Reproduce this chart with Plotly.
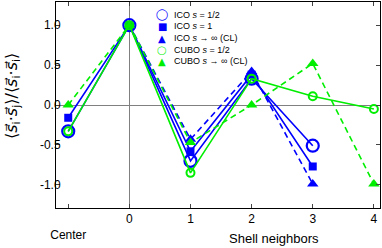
import plotly.graph_objects as go

# ---- data ----
x_cats = [-1, 0, 1, 2, 3, 4]
x_tickvals = [-1, 0, 1, 2, 3, 4]
x_ticktext = ["<br>Center", "0", "1", "2", "3", "4"]
y_tickvals = [-1.0, -0.5, 0.0, 0.5, 1.0]
y_ticktext = ["-1.0", "-0.5", "0.0", "0.5", "1.0"]

ico_half = [-0.33, 1.0, -0.70, 0.33, -0.51, None]
ico_one = [-0.16, 1.0, -0.58, 0.38, -0.77, None]
ico_cl = [None, 1.0, -0.43, 0.42, -0.99, None]
cubo_half = [-0.33, 1.0, -0.85, 0.33, 0.11, -0.05]
cubo_cl = [0.0, 1.0, -0.47, 0.0, 0.52, -0.99]

legend_names = [
    "ICO <i>s</i> = 1/2",
    "ICO <i>s</i> = 1",
    "ICO <i>s</i> → ∞ (CL)",
    "CUBO <i>s</i> = 1/2",
    "CUBO <i>s</i> → ∞ (CL)",
]

BLUE = "#0000ff"
GREEN = "#00ee00"

fig = go.Figure()

fig.add_trace(go.Scatter(x=x_cats, y=ico_cl, mode="lines+markers",
                         line=dict(color=BLUE, width=1.6, dash="6px,4px"),
                         marker=dict(symbol="triangle-up", size=10, color=BLUE),
                         showlegend=False, connectgaps=False))
fig.add_trace(go.Scatter(x=x_cats, y=ico_one, mode="lines+markers",
                         line=dict(color=BLUE, width=1.6),
                         marker=dict(symbol="square", size=8, color=BLUE),
                         showlegend=False))
fig.add_trace(go.Scatter(x=x_cats, y=ico_half, mode="lines+markers",
                         line=dict(color=BLUE, width=1.6),
                         marker=dict(symbol="circle-open", size=12, color=BLUE,
                                     line=dict(width=2.2, color=BLUE)),
                         showlegend=False))
fig.add_trace(go.Scatter(x=x_cats, y=cubo_cl, mode="lines+markers",
                         line=dict(color=GREEN, width=1.6, dash="6px,4px"),
                         marker=dict(symbol="triangle-up", size=10, color=GREEN),
                         showlegend=False))
fig.add_trace(go.Scatter(x=x_cats, y=cubo_half, mode="lines+markers",
                         line=dict(color=GREEN, width=1.6),
                         marker=dict(symbol="circle-open", size=8, color=GREEN,
                                     line=dict(width=2, color=GREEN)),
                         showlegend=False))

# ---- layout geometry ----
L, R, T, B = 56, 2, 2, 40
W, H = 382, 248
pw, ph = W - L - R, H - T - B


def px_x(px):
    return (px - L) / pw


def px_y(py):
    return (H - B - py) / ph


annotations = []
glyphs = [
    ("<b>◯</b>", BLUE, 11),
    ("■", BLUE, 10),
    ("▲", BLUE, 10),
    ("<b>◯</b>", GREEN, 8.5),
    ("▲", GREEN, 10),
]
row_y0, row_dy = 15, 11.5
for i, (name, (g, c, s)) in enumerate(zip(legend_names, glyphs)):
    yy = px_y(row_y0 + i * row_dy)
    annotations.append(dict(x=px_x(162), y=yy, xref="paper", yref="paper",
                            text=g, showarrow=False, xanchor="center", yanchor="middle",
                            font=dict(color=c, size=s, family="DejaVu Sans")))
    annotations.append(dict(x=px_x(172), y=yy, xref="paper", yref="paper",
                            text=name, showarrow=False, xanchor="left", yanchor="middle",
                            font=dict(color="black", size=9)))

annotations.append(dict(x=px_x(274), y=px_y(238), xref="paper", yref="paper",
                        text="Shell neighbors", showarrow=False,
                        xanchor="center", yanchor="middle", font=dict(size=13)))
annotations.append(dict(x=px_x(12), y=px_y(96), xref="paper", yref="paper",
                        text="⟨<i>s⃗</i><sub>i</sub>·<i>s⃗</i><sub>j</sub>⟩/⟨<i>s⃗</i><sub>i</sub>·<i>s⃗</i><sub>i</sub>⟩",
                        showarrow=False, textangle=-90,
                        xanchor="center", yanchor="middle",
                        font=dict(size=16, family="DejaVu Sans")))

fig.update_layout(
    width=W, height=H,
    margin=dict(l=L, r=R, t=T, b=B),
    paper_bgcolor="white", plot_bgcolor="white",
    font=dict(family="Liberation Sans, Arial, sans-serif", color="black", size=12),
    showlegend=False,
    annotations=annotations,
    xaxis=dict(range=[-1.2, 4.1], tickvals=x_tickvals, ticktext=x_ticktext,
               ticks="inside", ticklen=4, tickcolor="#444", mirror="ticks",
               showline=True, linecolor="black", linewidth=1,
               showgrid=False, zeroline=True, zerolinecolor="#808080", zerolinewidth=1,
               tickfont=dict(size=12)),
    yaxis=dict(range=[-1.29, 1.29], tickvals=y_tickvals, ticktext=y_ticktext,
               ticks="inside", ticklen=4, tickcolor="#444", mirror="ticks",
               showline=True, linecolor="black", linewidth=1,
               showgrid=False, zeroline=True, zerolinecolor="#808080", zerolinewidth=1,
               tickfont=dict(size=12), ticklabelstandoff=-8),
)

fig.write_html("out.html", config={"displayModeBar": False},
               post_script="document.body.style.margin='0px';")
